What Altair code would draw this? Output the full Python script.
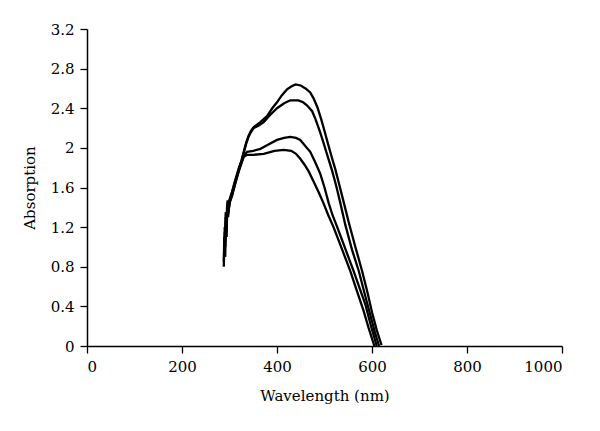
import altair as alt
import pandas as pd

# Wavelength (nm) / absorption for each of the four spectra
a_nm = [289, 290, 291, 292, 294, 296, 298, 300, 305, 310, 315, 320, 325, 330, 335, 340, 345, 351,
        365, 379, 390, 400, 410, 421, 430, 439, 450, 460, 470, 477, 485, 493, 500, 508, 515, 523,
        531, 540, 551, 565, 579, 590, 600, 610, 620]
a_abs = [0.95, 1.20, 1.05, 1.35, 1.25, 1.45, 1.38, 1.48, 1.55, 1.64, 1.72, 1.80, 1.87, 1.96, 2.05, 2.12, 2.17, 2.21,
         2.26, 2.32, 2.40, 2.46, 2.53, 2.59, 2.62, 2.64, 2.63, 2.60, 2.56, 2.50, 2.41, 2.29, 2.17, 2.03, 1.91, 1.78,
         1.63, 1.46, 1.25, 1.00, 0.76, 0.55, 0.34, 0.16, 0.01]

b_nm = [288, 289, 290, 292, 293, 295, 297, 300, 305, 310, 315, 320, 325, 330, 335, 340, 345, 351,
        360, 372, 385, 400, 415, 428, 445, 455, 463, 474, 481, 490, 498, 507, 516, 525, 533, 544,
        558, 572, 585, 596, 606, 615]
b_abs = [0.85, 1.10, 0.98, 1.30, 1.15, 1.42, 1.33, 1.46, 1.54, 1.63, 1.71, 1.79, 1.86, 1.95, 2.04, 2.11, 2.16, 2.20,
         2.22, 2.26, 2.33, 2.40, 2.45, 2.48, 2.48, 2.46, 2.43, 2.37, 2.29, 2.17, 2.05, 1.91, 1.77, 1.61, 1.45, 1.22,
         0.97, 0.76, 0.52, 0.32, 0.14, 0.0]

c_nm = [288, 289, 291, 292, 294, 295, 297, 300, 305, 310, 315, 320, 325, 330, 337, 350, 365, 380,
        400, 415, 428, 440, 449, 456, 470, 480, 491, 500, 509, 517, 526, 540, 561, 575, 586, 598, 610]
c_abs = [0.80, 1.00, 0.90, 1.20, 1.10, 1.38, 1.30, 1.45, 1.52, 1.61, 1.70, 1.78, 1.85, 1.92, 1.96, 1.97, 1.99, 2.03,
         2.08, 2.10, 2.11, 2.10, 2.08, 2.04, 1.96, 1.86, 1.74, 1.60, 1.44, 1.32, 1.21, 1.03, 0.76, 0.57, 0.42, 0.20, 0.0]

d_nm = [289, 290, 291, 293, 294, 296, 298, 300, 305, 310, 315, 320, 325, 330, 337, 350, 372, 395,
        414, 430, 440, 449, 458, 467, 477, 488, 498, 508, 519, 535, 554, 568, 582, 593, 605]
d_abs = [0.90, 1.15, 1.00, 1.35, 1.22, 1.47, 1.36, 1.44, 1.51, 1.60, 1.69, 1.77, 1.84, 1.91, 1.93, 1.93, 1.94, 1.97,
         1.98, 1.97, 1.94, 1.89, 1.83, 1.76, 1.66, 1.55, 1.44, 1.32, 1.20, 1.00, 0.76, 0.56, 0.36, 0.18, 0.0]

x_ticks = [0, 200, 400, 600, 800, 1000]
y_ticks = [0, 0.4, 0.8, 1.2, 1.6, 2, 2.4, 2.8, 3.2]

rows = []
for name, xs, ys in [("A", a_nm, a_abs), ("B", b_nm, b_abs), ("C", c_nm, c_abs), ("D", d_nm, d_abs)]:
    for i, (x, y) in enumerate(zip(xs, ys)):
        rows.append({"series": name, "idx": i, "nm": x, "abs": y})
df = pd.DataFrame(rows)

font = "DejaVu Serif"

chart = alt.Chart(df).mark_line(color="black", strokeWidth=2.3).encode(
    x=alt.X("nm:Q", title="Wavelength (nm)",
            scale=alt.Scale(domain=[0, 1000], nice=False, zero=False),
            axis=alt.Axis(values=x_ticks, grid=False, tickSize=7, labelPadding=6,
                          titlePadding=14, format="d")),
    y=alt.Y("abs:Q", title="Absorption",
            scale=alt.Scale(domain=[0, 3.2], nice=False),
            axis=alt.Axis(values=y_ticks, grid=False, tickSize=7, labelPadding=6,
                          titlePadding=13, format="~g")),
    detail="series:N",
    order="idx:Q",
).properties(
    width=475, height=317,
    autosize=alt.AutoSizeParams(type="none"),
    padding={"left": 79, "top": 21, "right": 20, "bottom": 70},
).configure_view(stroke=None).configure_axis(
    domainColor="black", tickColor="black", domainWidth=1.5, tickWidth=1.3,
    labelFont=font, titleFont=font, labelFontSize=15, titleFontSize=15,
    labelColor="black", titleColor="black", titleFontWeight="normal",
)

chart.save("out.html", embed_options={"renderer": "svg", "actions": False})
